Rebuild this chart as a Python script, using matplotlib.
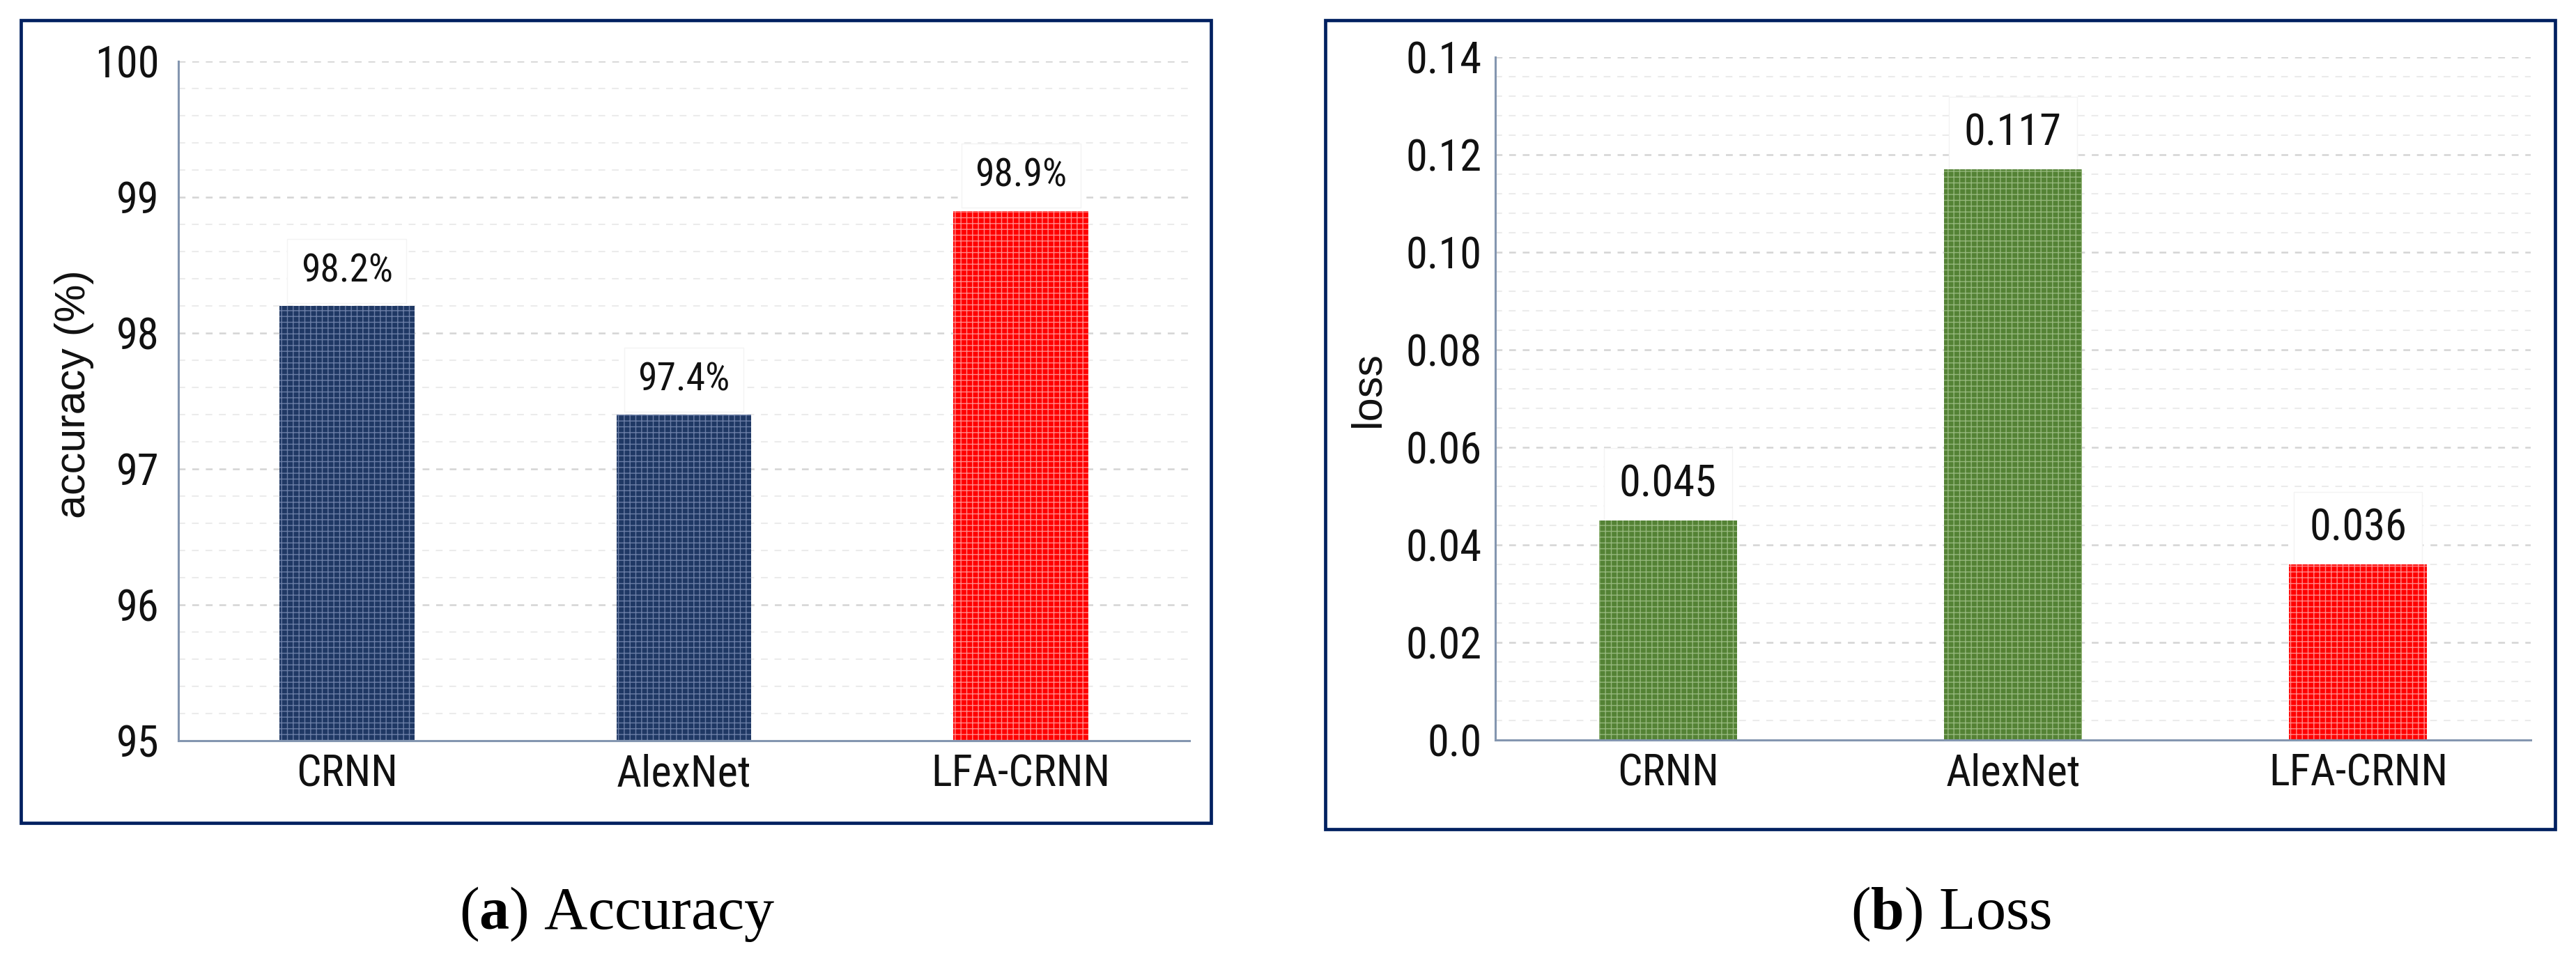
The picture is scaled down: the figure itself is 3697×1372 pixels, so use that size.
import matplotlib
matplotlib.use("Agg")
import matplotlib.pyplot as plt
from matplotlib import font_manager as fm
from matplotlib.patches import Rectangle
from matplotlib.ticker import MultipleLocator

# ---------------- data ----------------
categories = ["CRNN", "AlexNet", "LFA-CRNN"]
accuracy = [98.2, 97.4, 98.9]
accuracy_labels = ["98.2%", "97.4%", "98.9%"]
loss = [0.045, 0.117, 0.036]
loss_labels = ["0.045", "0.117", "0.036"]
acc_ticks = [95, 96, 97, 98, 99, 100]
acc_ticklabels = ["95", "96", "97", "98", "99", "100"]
loss_ticks = [0.0, 0.02, 0.04, 0.06, 0.08, 0.10, 0.12, 0.14]
loss_ticklabels = ["0.0", "0.02", "0.04", "0.06", "0.08", "0.10", "0.12", "0.14"]
acc_colors = ["#1f3864", "#1f3864", "#ff0000"]
acc_hatch = ["#6b7ea6", "#6b7ea6", "#ff8a8a"]
loss_colors = ["#548235", "#548235", "#ff0000"]
loss_hatch = ["#95b77c", "#95b77c", "#ff8a8a"]
captions = [("a", "Accuracy"), ("b", "Loss")]

# ---------------- fonts ----------------
SANS = "Liberation Sans"
SERIF = "Liberation Serif"


def _stretch_val(s):
    table = {"ultra-condensed": 100, "extra-condensed": 200, "condensed": 300,
             "semi-condensed": 400, "normal": 500}
    if isinstance(s, (int, float)):
        return s
    return table.get(str(s).lower(), 500)


def pick_narrow():
    prefs = ["Liberation Sans Narrow", "Arial Narrow", "Roboto Condensed"]
    best, best_key = None, None
    for f in fm.fontManager.ttflist:
        w = f.weight
        if not (w in (400, "normal", "regular", "book", "Regular", "Book")):
            continue
        if f.style != "normal":
            continue
        st = _stretch_val(f.stretch)
        narrow = ("Narrow" in f.name) or ("Condensed" in f.name) or st < 500
        if not narrow:
            continue
        if "Mono" in f.name or "Serif" in f.name:
            continue
        if f.name in prefs:
            key = (0, prefs.index(f.name))
        else:
            key = (1, abs(st - 300))
        if best_key is None or key < best_key:
            best, best_key = f, key
    return best


_nf = pick_narrow()
if _nf is not None:
    NARROW_FP = fm.FontProperties(fname=_nf.fname)
    TICK_SIZE, VAL_L, VAL_R = 45, 40, 45
else:
    NARROW_FP = fm.FontProperties(family=SANS)
    TICK_SIZE, VAL_L, VAL_R = 40, 36, 40

plt.rcParams["lines.scale_dashes"] = False
plt.rcParams["hatch.linewidth"] = 1.0
plt.rcParams["mathtext.fontset"] = "custom"
plt.rcParams["mathtext.rm"] = SERIF
plt.rcParams["mathtext.bf"] = SERIF + ":bold"

W, H = 3697, 1372
fig = plt.figure(figsize=(W / 100, H / 100), dpi=100)
fig.patch.set_facecolor("white")


def fx(px):
    return px / W


def fy(py):
    return 1 - py / H


def axes_px(x0, x1, ytop, ybot):
    return fig.add_axes([fx(x0), fy(ybot), fx(x1) - fx(x0), fy(ytop) - fy(ybot)])


# frame boxes
for (x0, x1, y0, y1) in [(30, 1738, 29, 1181), (1902, 3667, 29, 1190)]:
    fig.add_artist(Rectangle((fx(x0), fy(y1)), fx(x1) - fx(x0), fy(y0) - fy(y1),
                             transform=fig.transFigure, fill=False,
                             ec="#002060", lw=3.4, zorder=10))

axL = axes_px(256, 1707, 88, 1063)
axR = axes_px(2146, 3632, 82, 1062)

AX_COL = "#8496b0"


def style(ax, ticks, ticklabels, minor_step, ylim, ypad, ylabel, lab_xy, ylabel_size):
    ax.set_xlim(-0.5, 2.5)
    ax.set_ylim(*ylim)
    ax.set_yticks(ticks)
    ax.set_yticklabels(ticklabels)
    ax.yaxis.set_minor_locator(MultipleLocator(minor_step))
    ax.set_xticks(range(len(categories)))
    ax.set_xticklabels(categories)
    for lab in ax.get_yticklabels() + ax.get_xticklabels():
        lab.set_fontproperties(NARROW_FP)
        lab.set_fontsize(TICK_SIZE)
        lab.set_color("#111111")
    ax.tick_params(axis="both", which="both", length=0)
    ax.tick_params(axis="y", pad=ypad)
    ax.tick_params(axis="x", pad=13)
    for s in ["top", "right"]:
        ax.spines[s].set_visible(False)
    for s in ["left", "bottom"]:
        ax.spines[s].set_color(AX_COL)
        ax.spines[s].set_linewidth(2.2)
        ax.spines[s].set_zorder(5)
    ax.set_axisbelow(True)
    ax.grid(axis="y", which="major", color="#d4d4d4", lw=1.8, ls=(0, (7, 7)))
    ax.grid(axis="y", which="minor", color="#ebebeb", lw=1.5, ls=(0, (7, 7)))
    ax.set_ylabel(ylabel, fontfamily=SANS, fontsize=ylabel_size, color="#111111")
    ax.yaxis.label.set_va("center")
    ax.yaxis.set_label_coords(*lab_xy)


style(axL, acc_ticks, acc_ticklabels, 0.2, (95, 100), 20, "accuracy (%)", (-0.103, 0.51), 44)
style(axR, loss_ticks, loss_ticklabels, 0.004, (0, 0.14), 14, "loss", (-0.1225, 0.514), 44)

x = list(range(len(categories)))
axL.bar(x, accuracy, width=0.4, color=acc_colors, edgecolor=acc_hatch, linewidth=0,
        hatch="++", zorder=4)
axR.bar(x, loss, width=0.4, color=loss_colors, edgecolor=loss_hatch, linewidth=0,
        hatch="++", zorder=4)

box = dict(boxstyle="square,pad=0.35", fc="white", ec="#f3f3f3", lw=1)
for xi, v, t in zip(x, accuracy, accuracy_labels):
    axL.annotate(t, (xi, v), xytext=(0, 25), textcoords="offset points",
                 ha="center", va="baseline", fontproperties=NARROW_FP, fontsize=VAL_L,
                 color="#111111", bbox=box, zorder=3)
for xi, v, t in zip(x, loss, loss_labels):
    axR.annotate(t, (xi, v), xytext=(0, 25), textcoords="offset points",
                 ha="center", va="baseline", fontproperties=NARROW_FP, fontsize=VAL_R,
                 color="#111111", bbox=box, zorder=3)

# captions
for (letter, word), cx in zip(captions, [886, 2800]):
    fig.text(fx(cx), fy(1333), r"($\mathbf{%s}$) %s" % (letter, word),
             ha="center", va="baseline", fontfamily=SERIF, fontsize=62, color="black")

fig.savefig("out.png", dpi=100, facecolor="white")
